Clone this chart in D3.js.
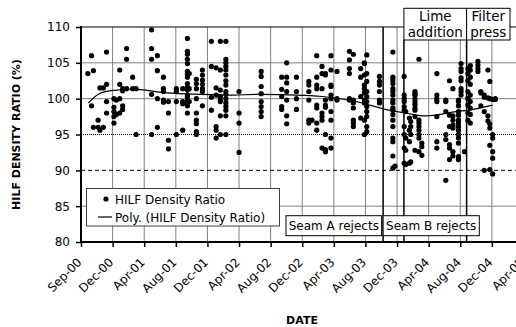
<!DOCTYPE html>
<html><head><meta charset="utf-8">
<script src="https://cdn.jsdelivr.net/npm/d3@7"></script>
<style>
body{margin:0;background:#fff}
svg{display:block}
text{font-family:"DejaVu Sans",Verdana,sans-serif;fill:#000}
</style>
</head><body>
<svg id="c" width="516" height="327"></svg>
<script>
// ---------- data ----------
const tickLabels = ["Sep-00","Dec-00","Apr-01","Aug-01","Dec-01","Apr-02","Aug-02","Dec-02",
                    "Apr-03","Aug-03","Dec-03","Apr-04","Aug-04","Dec-04","Apr-05"];
const yTicks = [80, 85, 90, 95, 100, 105, 110];

const sampleDates = [
 "2000-09-27","2000-10-11","2000-10-18","2000-11-05","2000-11-12","2000-11-25","2000-12-07",
 "2001-01-04","2001-01-13","2001-01-26","2001-02-06","2001-02-21","2001-03-16","2001-03-29",
 "2001-05-27","2001-06-18","2001-07-11","2001-07-30","2001-08-29","2001-09-22","2001-10-10",
 "2001-10-17","2001-11-13","2001-12-06","2002-01-09","2002-01-27","2002-02-12","2002-03-05",
 "2002-04-24","2002-07-17","2002-10-03","2002-10-22","2002-11-28","2003-01-14","2003-01-26",
 "2003-02-13","2003-03-05","2003-03-18","2003-04-08","2003-05-01","2003-06-17","2003-07-02",
 "2003-07-30","2003-08-13","2003-08-22","2003-10-09","2003-11-29","2003-12-07","2004-01-11",
 "2004-01-17","2004-01-31","2004-02-05","2004-02-21","2004-03-07","2004-03-18","2004-05-14",
 "2004-06-17","2004-07-01","2004-07-14","2004-08-04","2004-08-14","2004-08-27","2004-09-09",
 "2004-09-18","2004-10-17","2004-10-28","2004-11-10","2004-11-24","2004-12-01","2004-12-12",
 "2004-12-22"
];
const sampleValues = [
 [103.5],[106.0,99.0],[103.9,96.0],[97.0,96.0],[101.5,95.6],[101.5,96.0],[106.5,102.0,99.6,98.0],
 [100.0,98.8,98.2,97.5,96.6],[99.8,97.8],[104.0,102.0,100.0,98.0],[101.4,101.1,99.0,98.5],
 [107.0,105.5,101.4],[103.0,101.4],[101.4,95.0],
 [109.6,107.0,105.5,100.6,95.0],[106.0,103.9,100.0,96.0],[103.0,101.4,101.0,99.8,99.5],
 [99.6,98.0,94.2,93.0],[101.4,101.0,99.6,95.0],[101.4,99.6,99.3,95.6],
 [108.4,106.6,106.2,105.5,104.9,103.8,103.4,103.0,102.1,101.6,101.2,100.5,100.3,99.8,99.4,99.0,98.0],
 [103.5,101.4,99.6],[102.7,102.1,101.4,100.0,98.0,97.0,96.5,95.4,95.0],
 [104.0,103.3,102.6,102.0,101.4,101.0,99.0],[108.0,104.5,100.2,98.4],
 [104.3,101.5,100.5,96.1,95.6,94.5],[108.0,104.0,101.2,100.3,99.8,99.6,97.6,95.0],
 [108.0,105.5,105.0,104.5,104.0,103.3,102.5,101.9,101.0,100.6,100.0,99.4,98.9,98.4,97.6,95.0],
 [101.0,98.0,96.6,92.5],[103.8,103.1,101.7,100.7,99.6,98.9,98.2,97.5],
 [103.0,101.3,100.3,98.9,98.5],[105.0,103.0,102.2,101.0,99.8,97.6,96.5],
 [103.0,101.0,100.0,98.5],[102.4,101.9,101.0,99.8,97.0,96.6],[97.0],
 [106.0,103.0,101.9,101.4,99.1,98.7,96.6,95.6],[104.5,103.5,101.4,98.0,97.5,97.0,93.1],
 [103.5,103.3,99.8,99.1,98.8,95.0,92.9,92.6],
 [106.0,104.0,101.9,101.7,100.5,100.0,98.2,97.0,94.5,93.1],[103.8,100.0,99.8],
 [106.6,105.4,104.2,103.5,100.0,99.8],[106.2,99.8,99.4,98.7,97.0,96.6,96.1],
 [104.2,103.0,100.3,97.3],[105.0,104.9,103.3,101.9,101.4,100.8,99.8,99.4,97.0,95.0],
 [106.1,103.5,102.4,101.0,100.3,99.6,98.9,98.2,97.5,96.1,95.4],
 [103.1,102.4,101.9,101.0,99.8,99.4],
 [106.5,103.0,102.6,102.1,101.4,101.0,100.5,99.8,99.4,98.7,98.4,97.8,97.0,96.1,94.5,94.0,92.0,90.3],
 [90.6],[103.1,100.5,100.0,99.6,98.9,98.4,96.1,95.0,93.1,91.0],
 [98.2,94.5,92.8,90.8],[97.3,95.6,94.0,91.0],[96.8,96.1,95.0,91.2],
 [101.0,100.7,100.5,100.0,99.6,99.2,98.7,98.4,97.5,92.8],
 [105.5,97.0,96.6,96.1,95.6,95.0,94.5,92.6],[93.8,93.3,92.1],
 [103.5,100.5,100.0,99.6,97.5,94.0,93.1],
 [99.8,99.6,98.2,95.0,94.3,88.6],[102.5,97.7,96.1,93.6,93.1,91.5],
 [101.4,97.6,97.0,96.3,95.9,92.6,92.0],
 [99.8,99.6,99.0,98.2,97.7,97.0,96.6,96.1,95.6,95.0,94.5,93.8,91.9,91.5],
 [104.9,104.2,103.8,102.9,102.5,101.4,101.0,100.5],[92.6],
 [104.2,103.5,102.5,101.0,100.0,99.1,98.0,97.0],
 [104.6,104.0,103.0,102.0,100.5,99.6,98.7,97.8,96.6],
 [105.2,104.7,104.2,103.8],[101.0,100.8,99.0],[100.5,100.2,98.2,90.0],
 [104.0,100.1,97.6,96.9],[102.4,100.0,96.5,95.9,93.5,90.1],
 [99.9,95.0,94.5,92.6,91.7,89.5],[99.9,100.0]
];

// polynomial trend line
const trendDates = ["2000-09-29","2000-11-12","2001-01-15","2001-04-01","2001-07-24","2001-11-27",
  "2002-04-01","2002-07-12","2003-03-07","2003-07-11","2003-11-14","2004-01-17","2004-03-21",
  "2004-05-10","2004-07-25","2004-09-13","2004-12-12"];
const trendValues = [99.4,100.75,101.2,101.3,100.8,100.6,100.5,100.6,100.3,99.6,98.4,98.0,97.6,
  97.7,98.2,98.4,99.1];

const eventDates = ["2003-10-23","2004-01-10","2004-09-04"];

const seriesName = "HILF Density Ratio";
const trendName = "Poly. (HILF Density Ratio)";

// ---------- chart ----------
const svg = d3.select("#c");
const M = {left:81, top:27, bottom:242, right:523.5};
const parse = d3.utcParse("%Y-%m-%d");
const start = parse("2000-09-01");
const tickDates = tickLabels.map((_, i) => d3.utcDay.offset(start, 120 * i));

const x = d3.scaleUtc().domain([tickDates[0], tickDates[tickDates.length - 1]]).range([M.left, M.right]);
const y = d3.scaleLinear().domain([80, 110]).range([M.bottom, M.top]);

// vertical gridlines
svg.append("g").selectAll("line").data(tickDates.slice(1)).join("line")
  .attr("x1", d => x(d)).attr("x2", d => x(d))
  .attr("y1", M.top).attr("y2", M.bottom)
  .attr("stroke", "#808080").attr("stroke-width", 1);

// horizontal gridlines
const hStyle = v => v === 95 ? {c:"#000", d:"1,1"} : v === 90 ? {c:"#000", d:"4,3"} : {c:"#808080", d:null};
svg.append("g").selectAll("line").data(yTicks.filter(v => v > 80 && v < 110)).join("line")
  .attr("x1", M.left).attr("x2", 516)
  .attr("y1", d => y(d)).attr("y2", d => y(d))
  .attr("stroke", d => hStyle(d).c).attr("stroke-width", 1)
  .attr("stroke-dasharray", d => hStyle(d).d);
// top border
svg.append("line").attr("x1", M.left).attr("x2", 516)
  .attr("y1", y(110)).attr("y2", y(110)).attr("stroke", "#000").attr("stroke-width", 1);

// points
const points = sampleDates.flatMap((d, i) => sampleValues[i].map(v => ({date: parse(d), v})));
svg.append("g").selectAll("circle").data(points).join("circle")
  .attr("cx", d => x(d.date)).attr("cy", d => y(d.v)).attr("r", 2.6).attr("fill", "#000");

// trend
const trend = trendDates.map((d, i) => ({date: parse(d), v: trendValues[i]}));
svg.append("path").datum(trend)
  .attr("d", d3.line().x(d => x(d.date)).y(d => y(d.v)).curve(d3.curveCatmullRom))
  .attr("fill", "none").attr("stroke", "#000").attr("stroke-width", 1.2);

// event lines
const ev = eventDates.map(parse);
const boxTop = 8.3, boxBot = 40;
svg.append("line").attr("x1", x(ev[0])).attr("x2", x(ev[0])).attr("y1", M.top).attr("y2", M.bottom)
  .attr("stroke", "#000").attr("stroke-width", 1.5);
[ev[1], ev[2]].forEach(d => {
  svg.append("line").attr("x1", x(d)).attr("x2", x(d)).attr("y1", boxBot).attr("y2", M.bottom)
    .attr("stroke", "#000").attr("stroke-width", 1.5);
});

// annotation boxes
function box(x0, x1, y0, y1, lines, fs, baselines) {
  svg.append("rect").attr("x", x0).attr("y", y0).attr("width", x1 - x0).attr("height", y1 - y0)
    .attr("fill", "#fff").attr("stroke", "#000").attr("stroke-width", 1);
  lines.forEach((t, i) => svg.append("text").attr("x", (x0 + x1) / 2).attr("y", baselines[i])
    .attr("text-anchor", "middle").attr("font-size", fs).text(t));
}
box(286, x(ev[0]) - 1.5, 215.7, 235.7, ["Seam A rejects"], 12, [229.5]);
box(x(ev[0]), 479.3, 215.7, 235.7, ["Seam B rejects"], 12, [229.5]);
box(x(ev[1]), x(ev[2]), boxTop, boxBot, ["Lime", "addition"], 13.5, [20.7, 37]);
box(x(ev[2]), 510, boxTop, boxBot, ["Filter", "press"], 13.5, [20.7, 37]);

// legend
const lg = svg.append("g");
lg.append("rect").attr("x", 86.5).attr("y", 188.5).attr("width", 193).attr("height", 37.5)
  .attr("fill", "#fff").attr("stroke", "#404040").attr("stroke-width", 1);
lg.append("circle").attr("cx", 106).attr("cy", 199).attr("r", 2.6).attr("fill", "#000");
lg.append("text").attr("x", 115).attr("y", 203.5).attr("font-size", 12).text(seriesName);
lg.append("line").attr("x1", 98).attr("x2", 112).attr("y1", 217).attr("y2", 217)
  .attr("stroke", "#000").attr("stroke-width", 1.2);
lg.append("text").attr("x", 115).attr("y", 221.5).attr("font-size", 12).text(trendName);

// axes
const yAxis = svg.append("g").attr("transform", `translate(${M.left},0)`)
  .call(d3.axisLeft(y).tickValues(yTicks).tickSize(5).tickPadding(6).tickFormat(d3.format("d")));
yAxis.select(".domain").remove();
yAxis.selectAll("line").attr("stroke-width", 1.5);
yAxis.selectAll("text").attr("font-size", 12).attr("font-family", "DejaVu Sans").attr("fill", "#000");
svg.append("line").attr("x1", M.left).attr("x2", M.left).attr("y1", M.top - 1).attr("y2", M.bottom + 1)
  .attr("stroke", "#000").attr("stroke-width", 2);

const xAxis = svg.append("g").attr("transform", `translate(0,${M.bottom})`)
  .call(d3.axisBottom(x).tickValues(tickDates).tickSize(5).tickFormat((d, i) => tickLabels[i]));
xAxis.select(".domain").remove();
xAxis.selectAll("line").attr("stroke-width", 1.5);
xAxis.selectAll("text")
  .attr("font-size", 12).attr("font-family", "DejaVu Sans").attr("fill", "#000")
  .attr("text-anchor", "end").attr("dy", null).attr("y", 0)
  .attr("transform", "translate(1,21) rotate(-45)");
svg.append("line").attr("x1", M.left - 1).attr("x2", 516).attr("y1", M.bottom).attr("y2", M.bottom)
  .attr("stroke", "#000").attr("stroke-width", 2);

// axis titles
svg.append("text").attr("transform", `translate(20,134.5) rotate(-90)`)
  .attr("text-anchor", "middle").attr("font-size", 11).attr("font-weight", "bold")
  .text("HILF DENSITY RATIO (%)");
svg.append("text").attr("x", 302).attr("y", 324)
  .attr("text-anchor", "middle").attr("font-size", 11).attr("font-weight", "bold").text("DATE");
</script>
</body></html>
